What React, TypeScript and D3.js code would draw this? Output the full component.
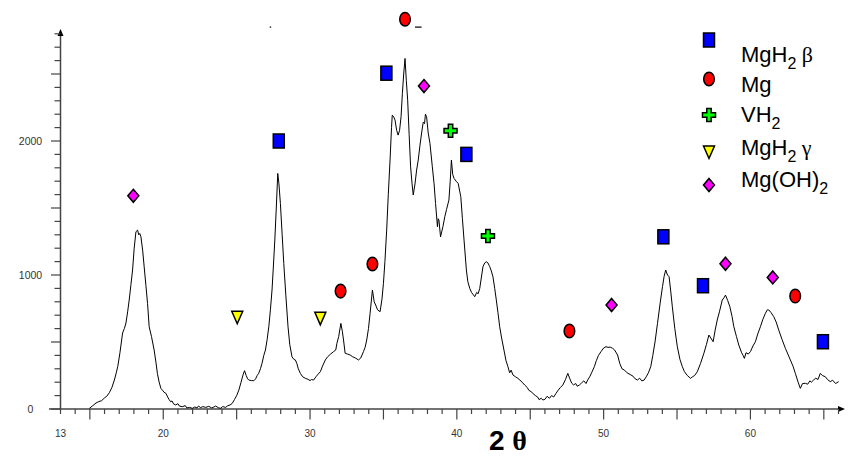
import React from "react";
import * as d3 from "d3";

const twoTheta = [
  14.97, 15.2, 15.42, 15.6, 15.8, 15.99, 16.15, 16.33, 16.5, 16.67, 16.8, 16.9, 17.05, 17.23, 17.35, 17.46, 17.58, 17.68, 17.8, 17.91,
  18.02, 18.14, 18.25, 18.33, 18.4, 18.48, 18.6, 18.7, 18.82, 18.93, 19.04, 19.2, 19.38, 19.5, 19.6, 19.72, 19.84, 19.95, 20.05, 20.18,
  20.3, 20.4, 20.5, 20.6, 20.7, 20.85, 21.0, 21.1, 21.3, 21.5, 21.6, 21.8, 21.98, 22.15, 22.3, 22.4, 22.55, 22.7, 22.9, 23.1,
  23.3, 23.45, 23.57, 23.75, 23.9, 24.05, 24.25, 24.4, 24.55, 24.7, 24.85, 25.0, 25.15, 25.3, 25.45, 25.54, 25.65, 25.75, 25.83, 26.0,
  26.17, 26.29, 26.4, 26.5, 26.62, 26.73, 26.85, 26.96, 27.08, 27.19, 27.3, 27.41, 27.5, 27.6, 27.7, 27.8, 27.88, 27.98, 28.1, 28.21,
  28.35, 28.5, 28.62, 28.77, 28.9, 29.0, 29.1, 29.2, 29.34, 29.5, 29.68, 29.85, 30.0, 30.1, 30.24, 30.4, 30.55, 30.7, 30.85, 31.04,
  31.2, 31.4, 31.6, 31.75, 31.83, 31.95, 32.1, 32.2, 32.28, 32.39, 32.55, 32.73, 32.9, 33.1, 33.3, 33.45, 33.64, 33.75, 33.86, 33.98,
  34.09, 34.25, 34.37, 34.47, 34.6, 34.77, 34.9, 35.0, 35.1, 35.22, 35.33, 35.45, 35.55, 35.6, 35.7, 35.79, 35.9, 36.0, 36.1, 36.2,
  36.29, 36.38, 36.47, 36.56, 36.65, 36.75, 36.85, 36.95, 37.03, 37.15, 37.26, 37.37, 37.49, 37.6, 37.71, 37.8, 37.86, 37.94, 38.05, 38.17,
  38.33, 38.45, 38.55, 38.68, 38.73, 38.78, 38.89, 39.05, 39.18, 39.3, 39.46, 39.55, 39.63, 39.72, 39.81, 39.95, 40.09, 40.27, 40.38, 40.49,
  40.65, 40.75, 40.88, 41.0, 41.22, 41.35, 41.45, 41.56, 41.78, 41.9, 42.0, 42.12, 42.24, 42.35, 42.46, 42.58, 42.69, 42.8, 42.92, 43.05,
  43.21, 43.35, 43.48, 43.6, 43.7, 43.82, 44.0, 44.16, 44.3, 44.45, 44.62, 44.8, 44.9, 45.05, 45.18, 45.35, 45.5, 45.6, 45.75, 45.86,
  46.0, 46.15, 46.31, 46.45, 46.6, 46.76, 46.9, 47.05, 47.22, 47.4, 47.56, 47.7, 47.83, 47.95, 48.1, 48.2, 48.35, 48.5, 48.65, 48.8,
  48.91, 49.05, 49.2, 49.37, 49.5, 49.65, 49.82, 50.0, 50.16, 50.3, 50.45, 50.61, 50.75, 50.95, 51.1, 51.25, 51.41, 51.6, 51.86, 52.0,
  52.15, 52.31, 52.45, 52.6, 52.76, 52.9, 53.05, 53.21, 53.35, 53.5, 53.67, 53.85, 54.01, 54.12, 54.23, 54.35, 54.46, 54.57, 54.68, 54.85,
  55.02, 55.2, 55.36, 55.5, 55.7, 55.92, 56.05, 56.2, 56.38, 56.6, 56.83, 57.0, 57.17, 57.3, 57.46, 57.6, 57.74, 57.9, 58.08, 58.2,
  58.3, 58.45, 58.6, 58.75, 58.87, 59.05, 59.21, 59.4, 59.5, 59.59, 59.7, 59.85, 60.0, 60.17, 60.34, 60.5, 60.68, 60.85, 61.02, 61.15,
  61.25, 61.4, 61.59, 61.75, 61.93, 62.15, 62.38, 62.55, 62.72, 62.9, 63.06, 63.25, 63.4, 63.55, 63.74, 63.9, 64.05, 64.15, 64.3, 64.45,
  64.6, 64.76, 64.9, 65.1, 65.25, 65.44, 65.6, 65.8, 66.01,
];

const counts = [
  5, 25, 45, 55, 62, 82, 95, 122, 160, 216, 270, 316, 420, 567, 600, 642, 730, 813, 930, 1037,
  1200, 1323, 1335, 1300, 1310, 1285, 1180, 1061, 920, 788, 614, 540, 440, 350, 266, 200, 154, 140, 125, 117,
  90, 70, 54, 60, 38, 30, 40, 22, 17, 25, 8, 12, 5, 15, 8, 22, 10, 18, 12, 20,
  8, 15, 22, 10, 5, 18, 12, 25, 30, 42, 70, 100, 141, 200, 260, 286, 250, 225, 216, 212,
  211, 225, 250, 266, 300, 341, 400, 440, 520, 614, 740, 888, 1060, 1261, 1500, 1758, 1680, 1534, 1300, 1087,
  850, 614, 480, 390, 370, 366, 340, 300, 266, 240, 229, 222, 212, 220, 216, 240, 260, 278, 320, 366,
  390, 410, 428, 440, 490, 540, 639, 580, 515, 416, 410, 403, 390, 380, 366, 380, 428, 460, 515, 600,
  714, 888, 800, 776, 740, 726, 820, 938, 1100, 1335, 1600, 1858, 2100, 2193, 2180, 2156, 2080, 2044, 2080, 2181,
  2355, 2500, 2616, 2450, 2305, 2050, 1808, 1680, 1597, 1680, 1783, 1858, 1969, 2060, 2140, 2130, 2200, 2181, 2060, 1982,
  1808, 1680, 1534, 1360, 1420, 1410, 1285, 1360, 1435, 1490, 1559, 1700, 1858, 1750, 1721, 1700, 1684, 1584, 1420, 1261,
  1037, 950, 900, 870, 838, 870, 860, 900, 1062, 1090, 1099, 1090, 1062, 1030, 987, 900, 813, 720, 614, 530,
  440, 360, 316, 270, 290, 254, 240, 229, 215, 200, 179, 160, 140, 130, 117, 100, 90, 70, 80, 67,
  72, 95, 80, 100, 90, 117, 140, 160, 179, 220, 266, 225, 192, 180, 190, 170, 179, 195, 210, 190,
  216, 240, 275, 316, 360, 400, 428, 455, 465, 460, 462, 453, 440, 403, 340, 300, 291, 270, 254, 245,
  225, 216, 230, 210, 216, 240, 270, 316, 400, 500, 639, 790, 913, 990, 1037, 1000, 987, 880, 763, 600,
  465, 370, 316, 280, 250, 229, 240, 250, 278, 340, 416, 480, 552, 530, 502, 590, 664, 730, 813, 830,
  850, 810, 763, 690, 614, 540, 477, 420, 400, 378, 420, 410, 428, 470, 502, 560, 614, 670, 714, 740,
  739, 720, 689, 650, 589, 520, 453, 410, 366, 320, 266, 200, 154, 190, 192, 185, 210, 200, 216, 230,
  220, 266, 250, 241, 220, 204, 215, 190, 204,
];

// phase markers [2theta, intensity]
const mgh2Beta = [[27.87, 2000], [35.2, 2506], [40.65, 1900], [54.07, 1285], [56.77, 920], [64.94, 502]];
const mgPeaks = [[36.47, 2909], [32.08, 880], [34.25, 1082], [47.67, 582], [63.05, 843]];
const vh2Peaks = [[39.57, 2076], [42.12, 1291]];
const mgh2Gamma = [[25.04, 685], [30.7, 677]];
const mgOH2Peaks = [[17.96, 1591], [37.76, 2410], [50.54, 776], [58.3, 1084], [61.52, 982]];

const xLabels = [13, 20, 30, 40, 50, 60];
const yLabels = [0, 1000, 2000];
const topMarks = [[27.25, 27.35], [37.15, 37.6]];

const W = 851;
const H = 456;

type Kind = "square" | "circle" | "plus" | "tri" | "diamond";
const FILL: Record<Kind, string> = {
  square: "#0000ff",
  circle: "#ff0000",
  plus: "#00ff00",
  tri: "#ffff00",
  diamond: "#ff00ff",
};

function Marker({ kind, x, y }: { kind: Kind; x: number; y: number }) {
  const common = { fill: FILL[kind], stroke: "#000", strokeWidth: 1.5 };
  if (kind === "square") return <rect x={x - 5.5} y={y - 7} width={11} height={14} {...common} />;
  if (kind === "circle") return <ellipse cx={x} cy={y} rx={5.3} ry={6.8} {...common} />;
  if (kind === "diamond")
    return <path d={`M${x},${y - 6.5}L${x + 5.5},${y}L${x},${y + 6.5}L${x - 5.5},${y}Z`} {...common} />;
  if (kind === "tri") return <path d={`M${x - 5.5},${y - 6}L${x + 5.5},${y - 6}L${x},${y + 6.5}Z`} {...common} />;
  const a = 6.5, t = 2.2;
  return (
    <path
      d={`M${x - t},${y - a}H${x + t}V${y - t}H${x + a}V${y + t}H${x + t}V${y + a}H${x - t}V${y + t}H${x - a}V${y - t}H${x - t}Z`}
      {...common}
    />
  );
}

export default function App() {
  const x = d3.scaleLinear().domain([13, 66]).range([60.5, 838.5]);
  const y = d3.scaleLinear().domain([0, 2800]).range([409, 33.8]);

  const pts: [number, number][] = twoTheta.map((t, i) => [t, counts[i]]);
  const line = d3
    .line<[number, number]>()
    .x((d) => x(d[0]))
    .y((d) => y(d[1]));

  const xTicks = d3.range(13, 67, 1);
  const yTicks = d3.range(0, 2801, 100);
  const axisColor = "#444";
  const sans = "'Liberation Sans', Arial, sans-serif";
  const serif = "'Liberation Serif', 'Times New Roman', serif";

  const series: [Kind, number[][]][] = [
    ["square", mgh2Beta],
    ["circle", mgPeaks],
    ["plus", vh2Peaks],
    ["tri", mgh2Gamma],
    ["diamond", mgOH2Peaks],
  ];

  const legendY = [40, 79, 115, 152, 185];
  const legendBase = [62, 92, 122, 155, 187];

  return (
    <svg
      width={W}
      height={H}
      style={{ position: "absolute", left: 0, top: 0, background: "#fff" }}
      fontFamily={sans}
    >
      <rect width={W} height={H} fill="#fff" />
      {/* y axis */}
      <line x1={60.5} x2={60.5} y1={409} y2={33} stroke={axisColor} strokeWidth={1.5} />
      <path d="M57.5,36 L60.5,29 L63.5,36 Z" fill="#000" />
      {yTicks.map((v) => (
        <line
          key={"yt" + v}
          x1={v % 500 === 0 ? 51 : 54.5}
          x2={60.5}
          y1={y(v)}
          y2={y(v)}
          stroke={axisColor}
          strokeWidth={1.2}
        />
      ))}
      {yLabels.map((v) => (
        <text key={"yl" + v} x={30.5} y={y(v) + 3.8} fontSize={10.5} textAnchor="middle" fill="#333">
          {v}
        </text>
      ))}
      {/* x axis */}
      <line x1={49} x2={842} y1={409} y2={409} stroke={axisColor} strokeWidth={1.5} />
      <path d="M838,406 L845,409 L838,412 Z" fill="#000" />
      {xTicks.map((v) => (
        <line
          key={"xt" + v}
          x1={x(v)}
          x2={x(v)}
          y1={409}
          y2={v % 5 === 0 ? 419.5 : 414}
          stroke={axisColor}
          strokeWidth={1.2}
        />
      ))}
      {xLabels.map((v) => (
        <text key={"xl" + v} x={x(v)} y={437} fontSize={10} textAnchor="middle" fill="#333">
          {v}
        </text>
      ))}
      <text x={508} y={450} fontSize={28} fontWeight="bold" textAnchor="middle" fill="#000">
        <tspan>2 </tspan>
        <tspan fontFamily={serif}>θ</tspan>
      </text>

      {/* pattern */}
      <path d={line(pts) ?? ""} fill="none" stroke="#000" strokeWidth={1} strokeLinejoin="round" />

      {topMarks.map((m, i) => (
        <line key={"tm" + i} x1={x(m[0])} x2={x(m[1])} y1={y(2850)} y2={y(2850)} stroke="#000" strokeWidth={1.2} />
      ))}

      {series.map(([kind, arr]) =>
        arr.map((d, i) => <Marker key={kind + i} kind={kind} x={x(d[0])} y={y(d[1])} />)
      )}

      {/* legend */}
      {series.map(([kind], i) => (
        <Marker key={"lg" + kind} kind={kind} x={709} y={legendY[i]} />
      ))}
      <g fontSize={22} fill="#000">
        <text x={741} y={legendBase[0]}>
          MgH<tspan fontSize={16} dy={7}>2</tspan>
          <tspan dy={-7} fontFamily={serif}> β</tspan>
        </text>
        <text x={741} y={legendBase[1]}>Mg</text>
        <text x={741} y={legendBase[2]}>
          VH<tspan fontSize={16} dy={7}>2</tspan>
        </text>
        <text x={741} y={legendBase[3]}>
          MgH<tspan fontSize={16} dy={7}>2</tspan>
          <tspan dy={-7} fontFamily={serif}> γ</tspan>
        </text>
        <text x={741} y={legendBase[4]}>
          Mg(OH)<tspan fontSize={16} dy={7}>2</tspan>
        </text>
      </g>
    </svg>
  );
}
